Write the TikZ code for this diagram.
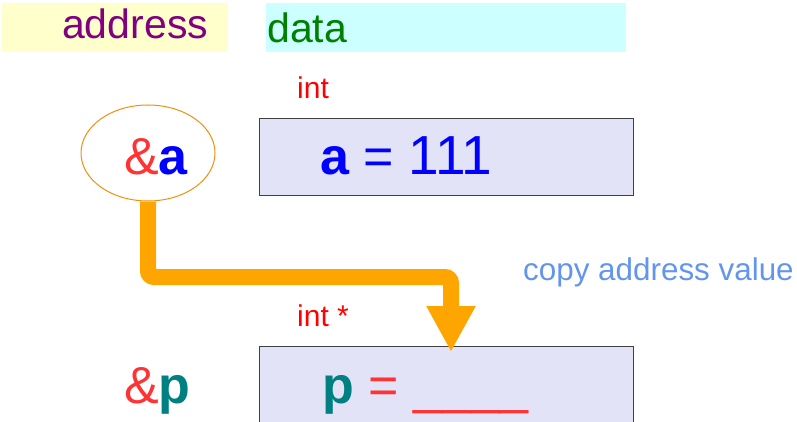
\documentclass[tikz,border=0pt]{standalone}
\usepackage{fontspec}
\setmainfont{Liberation Sans}
\usetikzlibrary{positioning,calc,arrows.meta,shapes.geometric}
\definecolor{addrbg}{HTML}{FFFFCC}
\definecolor{databg}{HTML}{CCFFFF}
\definecolor{cellbg}{HTML}{E3E3F7}
\definecolor{ampred}{HTML}{FF3333}
\definecolor{copyblue}{HTML}{6495ED}
\definecolor{arrowor}{HTML}{FFA500}
\definecolor{ringor}{HTML}{F0900F}
\newcommand\hdsz{\fontsize{41}{48}\selectfont}
\newcommand\tysz{\fontsize{30}{36}\selectfont}
\newcommand\vrsz{\fontsize{52}{60}\selectfont}

\begin{document}
\begin{tikzpicture}[x=1pt,y=-1pt,
  lbl/.style={anchor=base west,inner sep=0pt},
  cell/.style={draw=black!75,fill=cellbg,line width=1pt,minimum width=374pt,minimum height=77pt,inner sep=0pt}]
\useasboundingbox (0,0) rectangle (797,422);
\clip (0,0) rectangle (797,422);
% headers
\fill[addrbg] (2,3) rectangle (228,52);
\fill[databg] (266,3) rectangle (626,52);
\node[lbl,text={rgb,255:red,128;green,0;blue,128}] (hdaddr) at (62,39) {\hdsz address};
\node[lbl,text={rgb,255:red,0;green,128;blue,0}] (hddata) at (267,43) {\hdsz data};
% variable a
\node[lbl,text=red] (tya) at (297,99) {\tysz int};
\node[cell,anchor=north west] (cella) at (259,118) {};
\node[ellipse,draw=ringor,line width=1pt,fill=white,minimum width=134pt,minimum height=96pt,inner sep=0pt] (ea) at (148,153) {};
\node[lbl] (adra) at (124,175) {\vrsz\textcolor{ampred}{\&}\textcolor{blue}{\textbf{a}}};
\node[lbl,text=blue] (vala) at (320,175) {\vrsz\textbf{a} = {\fontsize{55}{60}\selectfont 111}};
% variable p
\node[lbl,text=red] (typ) at (297,326) {\tysz int *};
\node[cell,anchor=north west,minimum height=100pt] (cellp) at (259,346) {};
\node[lbl] (adrp) at (124,403) {\vrsz\textcolor{ampred}{\&}\textcolor{teal}{\textbf{p}}};
\node[lbl] (valp) at (322,403) {\vrsz\textcolor{teal}{\textbf{p}} \textcolor{ampred}{= \_\_\_\_}};
% copy arrow
\node[lbl,text=copyblue] (cplbl) at (523,280) {\fontsize{31.4}{38}\selectfont copy address value};
\coordinate (bend) at (451,277);
\coordinate (tip) at (451,352);
\draw[arrowor,line width=16pt,rounded corners=6pt,-{Triangle[width=46pt,length=46pt]}] (ea.south) |- (bend) -- (tip);
\end{tikzpicture}
\end{document}
